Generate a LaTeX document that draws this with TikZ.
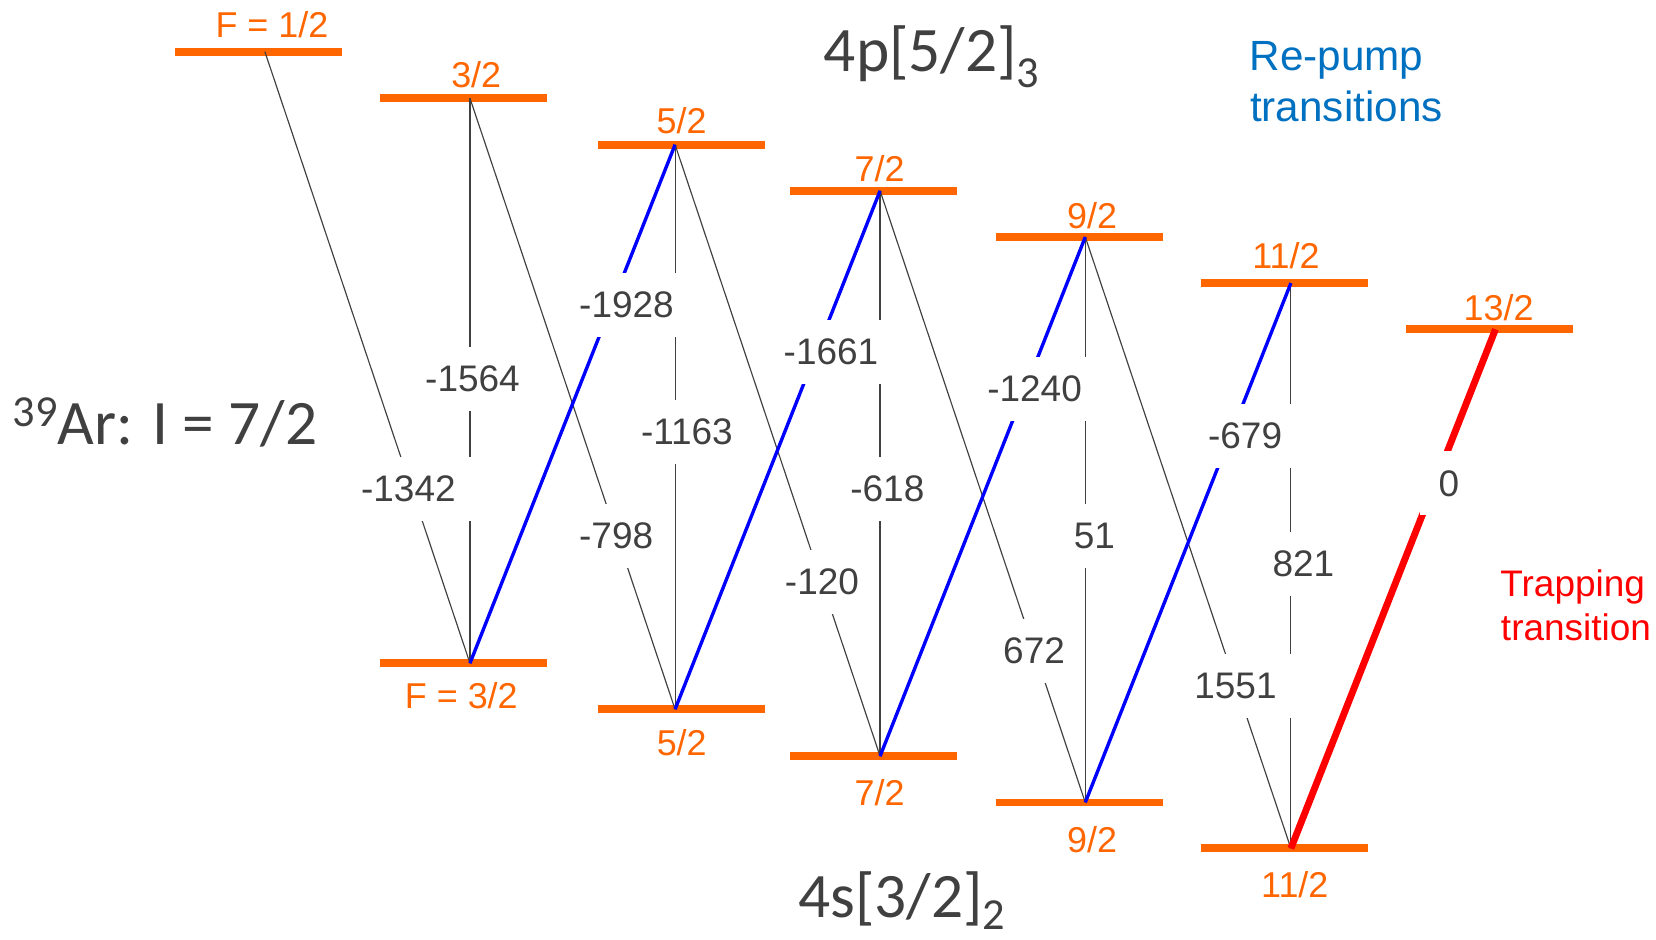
\documentclass[tikz,border=0pt]{standalone}
\usepackage{fontspec}
\setmainfont{Liberation Sans}
\newfontfamily\carlitofont{Carlito}
\definecolor{lvorange}{HTML}{FF6600}
\definecolor{txtgray}{HTML}{404040}
\definecolor{pumpblue}{HTML}{0000FF}
\definecolor{repumptxt}{HTML}{0070C0}
\definecolor{trapred}{HTML}{FF0000}
\begin{document}
\begin{tikzpicture}[x=1pt,y=-1pt,
  level/.style={rectangle, fill=lvorange, draw=none, inner sep=0pt, minimum width=158pt, minimum height=7.4pt},
  flab/.style={text=lvorange, font=\fontsize{34}{40}\selectfont, inner sep=0pt},
  hfline/.style={draw=txtgray, line width=1.1pt},
  repumpline/.style={draw=pumpblue, line width=3.2pt},
  trapline/.style={draw=trapred, line width=6.5pt},
  numlab/.style={fill=white, text=txtgray, font=\fontsize{35}{42}\selectfont, inner xsep=17.5pt, inner ysep=18pt},
  bigtxt/.style={anchor=base west, inner sep=0pt, text=txtgray, font=\carlitofont\fontsize{60}{72}\selectfont}
]
\useasboundingbox (0,0) rectangle (1568,890);

% upper levels 4p[5/2]3
\node[level] (U1) at (244.5,48.9) {};
\node[level] (U2) at (438.9,93.1) {};
\node[level] (U3) at (645.3,137) {};
\node[level] (U4) at (827.3,180.6) {};
\node[level] (U5) at (1022,224.4) {};
\node[level] (U6) at (1216.3,268) {};
\node[level] (U7) at (1410.5,311.8) {};
% lower levels 4s[3/2]2
\node[level] (L2) at (439,628) {};
\node[level] (L3) at (645.3,671.6) {};
\node[level] (L4) at (827.2,716) {};
\node[level] (L5) at (1022.1,759.8) {};
\node[level] (L6) at (1216.3,803.3) {};

% attachment points
\coordinate (a1) at (250.8,48.9);
\coordinate (a2) at (445,93.1);
\coordinate (a3) at (639.2,137);
\coordinate (a4) at (833.3,180.6);
\coordinate (a5) at (1027.6,224.4);
\coordinate (a6) at (1222.3,268);
\coordinate (a7) at (1416,311.8);
\coordinate (b2) at (445,628);
\coordinate (b3) at (639.2,671.6);
\coordinate (b4) at (833.3,716);
\coordinate (b5) at (1027.6,759.8);
\coordinate (b6) at (1222.3,803.3);

% level labels
\node[flab] (fu1) at (257.5,22.9) {F = 1/2};
\node[flab] (fu2) at (450.9,70.5) {3/2};
\node[flab] (fu3) at (645.3,114.4) {5/2};
\node[flab] (fu4) at (832.8,160) {7/2};
\node[flab] (fu5) at (1034,204.4) {9/2};
\node[flab] (fu6) at (1217.6,242) {11/2};
\node[flab] (fu7) at (1419,291) {13/2};
\node[flab] (fl2) at (436.8,659) {F = 3/2};
\node[flab] (fl3) at (645.5,703.5) {5/2};
\node[flab] (fl4) at (832.8,750.5) {7/2};
\node[flab] (fl5) at (1034,794.6) {9/2};
\node[flab] (fl6) at (1226,838) {11/2};

% hyperfine transitions
\draw[hfline] (a1) -- (b2);
\draw[hfline] (a2) -- (b2);
\draw[hfline] (a2) -- (b3);
\draw[hfline] (a3) -- (b3);
\draw[hfline] (a3) -- (b4);
\draw[hfline] (a4) -- (b4);
\draw[hfline] (a4) -- (b5);
\draw[hfline] (a5) -- (b5);
\draw[hfline] (a5) -- (b6);
\draw[hfline] (a6) -- (b6);
\draw[repumpline] (b2) -- (a3);
\draw[repumpline] (b3) -- (a4);
\draw[repumpline] (b4) -- (a5);
\draw[repumpline] (b5) -- (a6);
\draw[trapline] (b6) -- (a7);

% frequency labels
\node[numlab] (n1342) at (386.7,463.2) {-1342};
\node[numlab] (n1564) at (447.4,358.6) {-1564};
\node[numlab] (n798) at (583.4,507.2) {-798};
\node[numlab] (n1928) at (593.2,288.8) {-1928};
\node[numlab] (n1163) at (650.4,408.7) {-1163};
\node[numlab] (n120) at (778.3,551.2) {-120};
\node[numlab] (n1661) at (786.8,333) {-1661};
\node[numlab] (n618) at (840.2,463.2) {-618};
\node[numlab] (n672) at (979.1,616.6) {672};
\node[numlab] (n1240) at (979.6,368.5) {-1240};
\node[numlab] (n51) at (1036.3,507.4) {51};
\node[numlab] (n1551) at (1169.8,649.9) {1551};
\node[numlab] (n679) at (1178.9,412.7) {-679};
\node[numlab] (n821) at (1234.1,533.8) {821};
\node[numlab] (n0) at (1372,457.7) {0};

% titles
\node[bigtxt] (upname) at (780,67.9) {4p[5/2]\raisebox{-14.8pt}{\fontsize{42}{50}\selectfont 3}};
\node[bigtxt] (loname) at (755.5,868.5) {4s[3/2]\raisebox{-12pt}{\fontsize{42}{50}\selectfont 2}};
\node[bigtxt] (iso) at (11.8,421.3) {\raisebox{17.5pt}{\fontsize{42}{50}\selectfont 39}Ar: I = 7/2};

\node[anchor=base west, inner sep=0pt, text=repumptxt, font=\fontsize{40}{48}\selectfont] (rp1) at (1183,66.3) {Re-pump};
\node[anchor=base west, inner sep=0pt, text=repumptxt, font=\fontsize{40}{48}\selectfont] (rp2) at (1183.5,115.2) {transitions};
\node[anchor=base west, inner sep=0pt, text=trapred, font=\fontsize{35}{42}\selectfont] (tr1) at (1420.5,565) {Trapping};
\node[anchor=base west, inner sep=0pt, text=trapred, font=\fontsize{35}{42}\selectfont] (tr2) at (1421,606) {transition};
\end{tikzpicture}
\end{document}
